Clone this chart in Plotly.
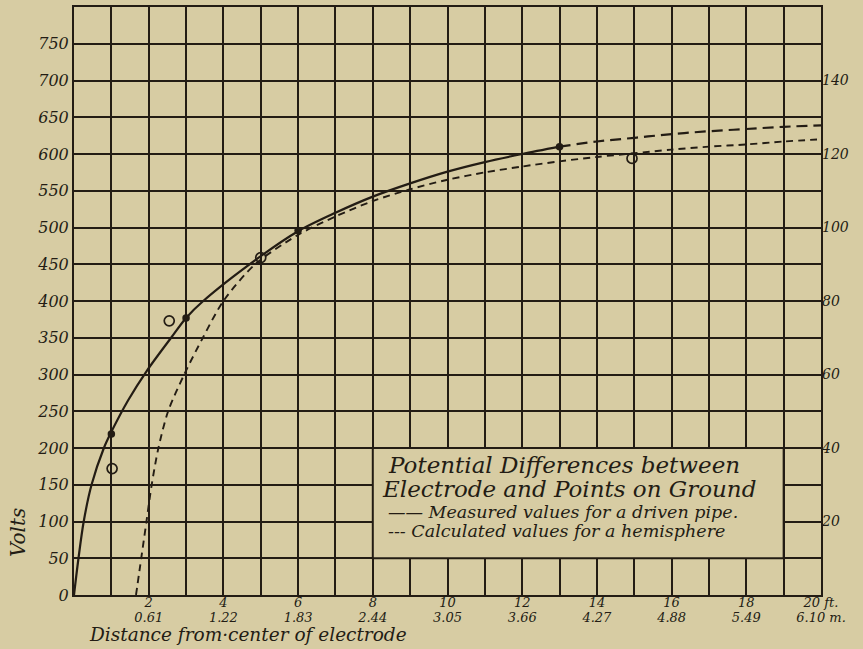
import plotly.graph_objects as go

# ---- data ----
# measured curve (driven pipe), feet vs volts
meas_ft = [0, 0.12, 0.26, 0.47, 0.8, 1.0, 1.45, 1.95, 2.6, 3.0, 3.46, 5.0, 6.0, 7, 8, 9, 10, 11, 12, 13]
meas_v = [0, 50, 100, 150, 200, 222, 265, 305, 350, 377, 400, 461, 495, 520, 542, 560, 576, 589, 600, 610]
# measured curve extrapolated (dashed)
ext_ft = [13, 14, 15, 16, 17, 18, 19, 20]
ext_v = [610, 617, 622, 627, 631, 634, 637, 639]
# calculated curve (hemisphere)
calc_ft = [1.66, 1.8, 1.94, 2.08, 2.26, 2.52, 2.95, 3.45, 4.0, 4.85, 6, 7, 8, 9, 10, 11, 12, 13, 14, 15, 16, 17, 18, 19, 20]
calc_v = [0, 50, 100, 150, 200, 250, 300, 350, 400, 450, 490, 515, 536, 552, 565, 575, 583, 590, 596, 601, 606, 610, 613, 617, 620]
# observation points
dot_ft = [1.0, 3.0, 6.0, 13.0]
dot_v = [219, 377, 496, 610]
ring_ft = [1.02, 2.55, 5.0, 14.94]
ring_v = [172, 373, 459, 594]

# axis ticks
ft_ticks = list(range(1, 21))
ft_labels = {2: "2", 4: "4", 6: "6", 8: "8", 10: "10", 12: "12", 14: "14", 16: "16", 18: "18", 20: "20 ft."}
m_labels = {2: "0.61", 4: "1.22", 6: "1.83", 8: "2.44", 10: "3.05", 12: "3.66", 14: "4.27", 16: "4.88", 18: "5.49", 20: "6.10 m."}
volt_ticks = list(range(0, 751, 50))
right_ticks = [20, 40, 60, 80, 100, 120, 140]

BG = "#d7cca3"
INK = "#231c14"
FONT = "DejaVu Serif"

fig = go.Figure()
fig.add_trace(go.Scatter(x=meas_ft, y=meas_v, mode="lines", line=dict(color=INK, width=2.2, shape="spline", smoothing=0.9), hoverinfo="skip"))
fig.add_trace(go.Scatter(x=ext_ft, y=ext_v, mode="lines", line=dict(color=INK, width=2.2, dash="11px,6px", shape="spline"), hoverinfo="skip"))
fig.add_trace(go.Scatter(x=calc_ft, y=calc_v, mode="lines", line=dict(color=INK, width=1.9, dash="7px,5px", shape="spline", smoothing=0.8), hoverinfo="skip"))
fig.add_trace(go.Scatter(x=dot_ft, y=dot_v, mode="markers", marker=dict(color=INK, size=7.5), hoverinfo="skip"))
fig.add_trace(go.Scatter(x=ring_ft, y=ring_v, mode="markers", marker=dict(color=INK, size=10, symbol="circle-open", line=dict(color=INK, width=1.7)), hoverinfo="skip"))
fig.add_trace(go.Scatter(x=[0], y=[0], yaxis="y2", mode="markers", marker=dict(opacity=0), hoverinfo="skip"))
fig.add_trace(go.Scatter(x=[0], y=[0], xaxis="x2", mode="markers", marker=dict(opacity=0), hoverinfo="skip"))

fig.add_shape(type="rect", xref="x", yref="y", x0=8, x1=19, y0=50, y1=200,
              fillcolor=BG, line=dict(color=INK, width=2), layer="above")

big = dict(family=FONT, size=23, color=INK, style="italic")
small = dict(family=FONT, size=17.5, color=INK, style="italic")
fig.add_annotation(text="Potential Differences between", xref="x", yref="y", x=8.35, y=177.5,
                   xanchor="left", yanchor="middle", showarrow=False, font=big)
fig.add_annotation(text="Electrode and Points on Ground", xref="x", yref="y", x=8.2, y=143.6,
                   xanchor="left", yanchor="middle", showarrow=False, font=big)
fig.add_annotation(text="—— Measured values for a driven pipe.", xref="x", yref="y", x=8.35, y=112.5,
                   xanchor="left", yanchor="middle", showarrow=False, font=small)
fig.add_annotation(text="--- Calculated values for a hemisphere", xref="x", yref="y", x=8.35, y=86.7,
                   xanchor="left", yanchor="middle", showarrow=False, font=small)

fig.add_annotation(text="Volts", xref="paper", yref="paper", x=-0.075, y=0.107, textangle=-90,
                   xanchor="center", yanchor="middle", showarrow=False,
                   font=dict(family=FONT, size=20, color=INK, style="italic"))
fig.add_annotation(text="Distance from·center of electrode", xref="paper", yref="paper", x=0.0174, y=-0.068,
                   xanchor="left", yanchor="middle", showarrow=False,
                   font=dict(family=FONT, size=18.5, color=INK, style="italic"))

tickfont_b = dict(family=FONT, size=13, color=INK, style="italic")
fig.update_layout(
    width=863, height=649,
    margin=dict(l=74, r=42, t=5, b=54),
    paper_bgcolor=BG, plot_bgcolor=BG,
    showlegend=False,
    xaxis=dict(range=[0, 20], tickvals=ft_ticks, ticktext=[ft_labels.get(t, "") for t in ft_ticks],
               showgrid=True, gridcolor=INK, gridwidth=2,
               zeroline=False, showline=True, mirror=True, linecolor=INK, linewidth=2, ticks="",
               ticklabelstandoff=-6, tickfont=tickfont_b),
    xaxis2=dict(range=[0, 20], overlaying="x", side="bottom", anchor="y", tickvals=ft_ticks,
                ticktext=[m_labels.get(t, "") for t in ft_ticks], showgrid=False, zeroline=False,
                showline=False, ticks="", ticklabelstandoff=13, tickfont=tickfont_b),
    yaxis=dict(range=[0, 800], tickvals=volt_ticks, ticktext=[str(v) for v in volt_ticks], showgrid=True,
               gridcolor=INK, gridwidth=2, zeroline=False, showline=True, mirror=True, linecolor=INK,
               linewidth=2, ticks="", tickfont=dict(family=FONT, size=16, color=INK, style="italic")),
    yaxis2=dict(range=[0, 160], overlaying="y", side="right", tickvals=right_ticks,
                ticktext=[str(v) for v in right_ticks], showgrid=False, zeroline=False, showline=False,
                ticks="", tickfont=dict(family=FONT, size=14, color=INK, style="italic")),
)

fig.write_html("out.html", config={"displayModeBar": False},
               post_script="document.body.style.margin='0px';document.body.style.background='%s';" % BG)
